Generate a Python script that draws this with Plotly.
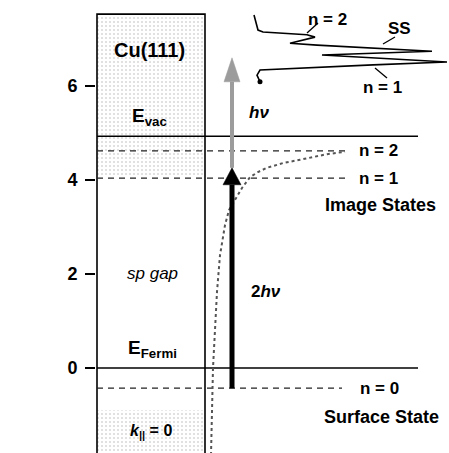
import plotly.graph_objects as go

# ---------------- data (energies in eV) ----------------
E_VAC = 4.93          # vacuum level
E_FERMI = 0.0         # Fermi level
IS_LEVELS = [4.62, 4.04]      # image states n = 2, n = 1
IS_NAMES = ["n = 2", "n = 1"]
SS_LEVEL = -0.43              # surface state n = 0
GAP_TOP = 4.10                # upper edge of sp gap
GAP_BOTTOM = -0.90            # lower edge of sp gap
BULK_TOP = 7.53               # top of the drawn Cu(111) box
BULK_BOTTOM = -1.9

PUMP = [-0.43, 4.26]          # 2hv excitation (start, end)
PROBE = [4.26, 6.60]          # hv photoemission (start, end)

# image potential curve: distance from surface (px) vs energy (eV)
pot_z = [211, 212, 213, 215, 217, 220, 225, 229, 233, 236, 242, 250, 258, 267, 283, 300, 327, 345]
pot_E = [-1.85, -1.11, 0.0, 0.81, 1.62, 2.40, 3.04, 3.36, 3.51, 3.62, 3.83, 4.06, 4.17, 4.26, 4.36, 4.43, 4.55, 4.60]

# 2PPE spectrum: intensity (px, horizontal) vs final-state energy (eV)
spec_I = [254, 258, 263, 307, 315, 290, 317, 432, 322, 447, 373, 260, 257, 260]
spec_E = [7.51, 7.19, 7.15, 7.09, 7.04, 6.91, 6.87, 6.74, 6.66, 6.51, 6.45, 6.34, 6.23, 6.09]

Y_TICKS = [0, 2, 4, 6]

# ---------------- layout constants (px) ----------------
PX_PER_EV = 47.0
X_BOX_L, X_BOX_R = 97, 205
X_LINE_END = 418
X_DASH_END = 345
X_ARROW = 232
FONT = "Liberation Sans, Arial, sans-serif"

fig = go.Figure()

def line(xs, ys, color="black", width=1.5, dash="solid"):
    fig.add_trace(go.Scatter(x=xs, y=ys, mode="lines", hoverinfo="skip", showlegend=False,
                             line=dict(color=color, width=width, dash=dash)))

# stippled bulk-band regions
for lo, hi in [(GAP_TOP, BULK_TOP), (BULK_BOTTOM, GAP_BOTTOM)]:
    fig.add_trace(go.Scatter(
        x=[X_BOX_L, X_BOX_R, X_BOX_R, X_BOX_L, X_BOX_L], y=[lo, lo, hi, hi, lo],
        mode="lines", fill="toself", line=dict(width=0), hoverinfo="skip", showlegend=False,
        fillcolor="rgba(0,0,0,0)",
        fillpattern=dict(shape=".", fgcolor="#b0b0b0", bgcolor="white", size=4, solidity=0.2)))

# box outline
line([X_BOX_L, X_BOX_L, X_BOX_R, X_BOX_R], [BULK_BOTTOM, BULK_TOP, BULK_TOP, BULK_BOTTOM], width=1.6)

# levels
line([X_BOX_L, X_LINE_END], [E_VAC, E_VAC], width=1.5)
line([X_BOX_L, X_LINE_END], [E_FERMI, E_FERMI], width=1.5)
for e in IS_LEVELS:
    line([X_BOX_L, X_DASH_END], [e, e], color="#222", width=1.3, dash="6px,5px")
line([X_BOX_L, X_DASH_END - 3], [SS_LEVEL, SS_LEVEL], color="#222", width=1.3, dash="6px,5px")

# image potential
line(pot_z, pot_E, color="#555", width=2.0, dash="dot")

# arrows
def arrow(y0, y1, color, shaft_w, head_len_px, head_half_px):
    base = y1 - head_len_px / PX_PER_EV
    line([X_ARROW, X_ARROW], [y0, base], color=color, width=shaft_w)
    fig.add_trace(go.Scatter(
        x=[X_ARROW - head_half_px, X_ARROW + head_half_px, X_ARROW, X_ARROW - head_half_px],
        y=[base, base, y1, base], mode="lines", fill="toself", fillcolor=color,
        line=dict(color=color, width=0.5), hoverinfo="skip", showlegend=False))

arrow(PROBE[0], PROBE[1], "#9c9c9c", 4, 24, 8)
arrow(PUMP[0], PUMP[1], "black", 5, 17, 9)

# spectrum
line(spec_I, spec_E, color="black", width=1.6)
fig.add_trace(go.Scatter(x=[spec_I[-1]], y=[spec_E[-1]], mode="markers", hoverinfo="skip",
                         showlegend=False, marker=dict(color="black", size=5)))

def ev(ypx):
    return (368 - ypx) / PX_PER_EV

# leader lines for spectrum labels
for (xa, ya, xb, yb) in [(318, 23, 307, 33), (395, 37, 383, 44), (375, 68, 387, 78)]:
    line([xa, xb], [ev(ya), ev(yb)], width=1.3)

def label(text, x, y, size=17, bold=True, italic=False):
    t = text
    if italic:
        t = "<i>" + t + "</i>"
    if bold:
        t = "<b>" + t + "</b>"
    fig.add_annotation(x=x, y=y, xref="x", yref="y", text=t, showarrow=False,
                       font=dict(family=FONT, size=size, color="black"),
                       xanchor="center", yanchor="middle")

label("Cu(111)", 149, ev(50), size=20)
label("E<sub>vac</sub>", 149, ev(117), size=19)
label("sp gap", 152, ev(273), size=17, bold=False, italic=True)
label("E<sub>Fermi</sub>", 152, ev(349), size=19)
label("<i>k</i><sub>||</sub> = 0", 151, ev(431), size=16)
label("<i>hν</i>", 259, ev(112), size=17)
label("2<i>hν</i>", 266, ev(291), size=17)
label(IS_NAMES[0], 378, IS_LEVELS[0], size=17)
label(IS_NAMES[1], 378, IS_LEVELS[1], size=17)
label("Image States", 380, ev(205), size=18)
label("n = 0", 379, SS_LEVEL, size=17)
label("Surface State", 381, ev(417), size=18)
label("n = 2", 327, ev(19), size=17)
label("SS", 399, ev(28), size=17)
label("n = 1", 382, ev(87), size=17)

fig.add_annotation(x=27, y=ev(227), xref="x", yref="y", text="<b>Energy [eV]</b>",
                   textangle=-90, showarrow=False,
                   font=dict(family=FONT, size=19, color="black"))

fig.update_layout(
    width=449, height=453,
    margin=dict(l=96, r=0, t=0, b=0, pad=0),
    plot_bgcolor="white", paper_bgcolor="white",
    showlegend=False,
    xaxis=dict(visible=False, range=[96, 449], fixedrange=True),
    yaxis=dict(range=[-85 / PX_PER_EV, 368 / PX_PER_EV], tickvals=Y_TICKS,
               ticktext=[str(v) for v in Y_TICKS],
               ticks="outside", ticklen=10, tickwidth=1.5, tickcolor="black",
               showgrid=False, zeroline=False, showline=False,
               tickfont=dict(family=FONT, size=18, color="black", weight="bold"),
               ticklabelstandoff=4, fixedrange=True),
)

fig.write_html("out.html")
